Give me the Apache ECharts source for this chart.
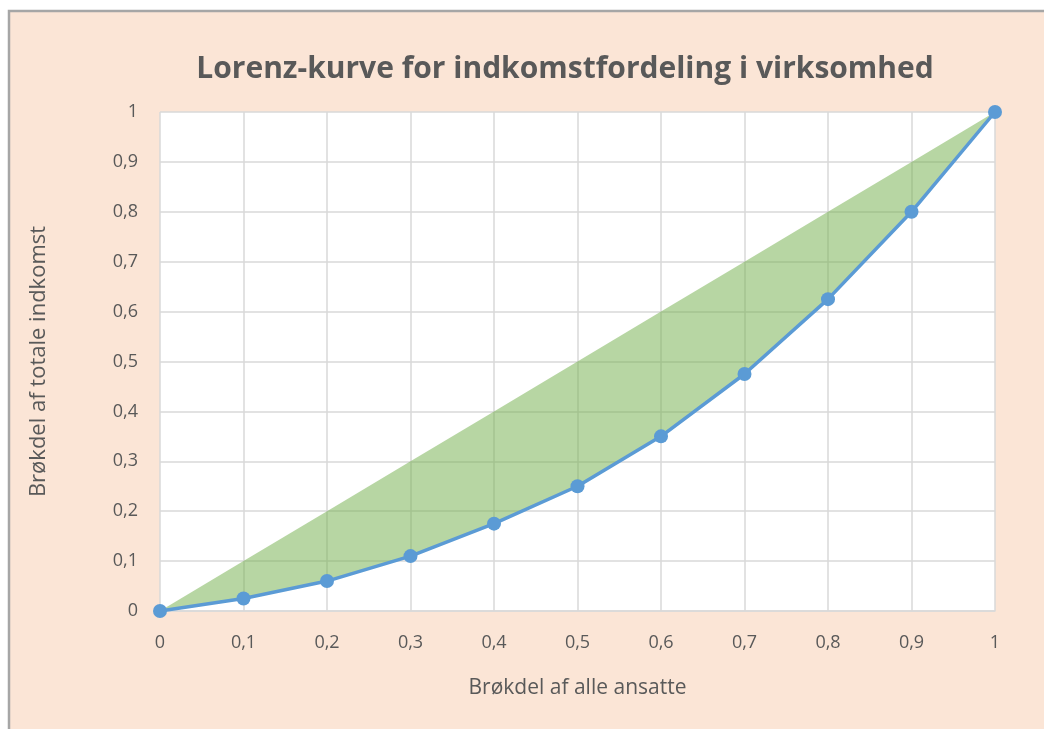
<!DOCTYPE html>
<html>
<head>
<meta charset="utf-8">
<script src="https://cdn.jsdelivr.net/npm/echarts@6/dist/echarts.min.js"></script>
<style>
  html, body { margin: 0; padding: 0; background: #fff; }
  #chart { width: 1044px; height: 729px; }
</style>
</head>
<body>
<div id="chart"></div>
<script>
    // andel af ansatte (x) og andel af indkomst (y)
    let ansatte = [0, 0.1, 0.2, 0.3, 0.4, 0.5, 0.6, 0.7, 0.8, 0.9, 1];
    let indkomst = [0, 0.025, 0.06, 0.11, 0.175, 0.25, 0.35, 0.475, 0.625, 0.8, 1];
    // lighedslinjen (perfekt fordeling)
    let lighed = [0, 0.1, 0.2, 0.3, 0.4, 0.5, 0.6, 0.7, 0.8, 0.9, 1];
    let tickLabels = ['0', '0,1', '0,2', '0,3', '0,4', '0,5', '0,6', '0,7', '0,8', '0,9', '1'];

    let chart = echarts.init(document.getElementById('chart'));
    let font = 'Open Sans';
    let tickFmt = v => tickLabels[Math.round(v * 10)];

    let option = {
        backgroundColor: '#fff',
        textStyle: { fontFamily: font },
        graphic: [{
            type: 'rect',
            z: -10,
            shape: { x: 9, y: 11, width: 1100, height: 800 },
            style: { fill: '#FBE5D6', stroke: '#A6A6A6', lineWidth: 2.5 }
        }],
        title: {
            text: 'Lorenz-kurve for indkomstfordeling i virksomhed',
            left: 560,
            top: 49,
            textAlign: 'center',
            textStyle: {
                color: '#595959',
                fontSize: 30,
                fontWeight: 'bold',
                fontFamily: font
            }
        },
        grid: {
            left: 160,
            right: 49,
            top: 112,
            bottom: 118,
            show: true,
            backgroundColor: '#fff',
            borderWidth: 0
        },
        xAxis: {
            type: 'value',
            min: 0,
            max: 1,
            interval: 0.1,
            name: 'Brøkdel af alle ansatte',
            nameLocation: 'middle',
            nameGap: 67,
            nameTextStyle: { color: '#595959', fontSize: 21 },
            axisLine: { show: true, lineStyle: { color: '#D9D9D9', width: 1.5 } },
            axisTick: { show: false },
            splitLine: { show: true, lineStyle: { color: '#D9D9D9', width: 1.5 } },
            axisLabel: { color: '#595959', fontSize: 18, margin: 23, formatter: tickFmt }
        },
        yAxis: {
            type: 'value',
            min: 0,
            max: 1,
            interval: 0.1,
            name: 'Brøkdel af totale indkomst',
            nameLocation: 'middle',
            nameGap: 110,
            nameTextStyle: { color: '#595959', fontSize: 22 },
            axisLine: { show: false },
            axisTick: { show: false },
            splitLine: { show: true, lineStyle: { color: '#D9D9D9', width: 1.5 } },
            axisLabel: { color: '#595959', fontSize: 18, margin: 22, formatter: tickFmt }
        },
        series: [{
            name: 'Lorenz',
            type: 'line',
            symbol: 'circle',
            symbolSize: 14,
            lineStyle: { color: '#5B9BD5', width: 3.5 },
            itemStyle: { color: '#5B9BD5' },
            data: ansatte.map((x, i) => [x, indkomst[i]])
        }, {
            // arealet mellem lighedslinjen og Lorenz-kurven
            name: 'Gini-areal',
            type: 'custom',
            silent: true,
            z: 3,
            data: [[0, 0]],
            renderItem: function (params, api) {
                let pts = [];
                ansatte.forEach((x, i) => pts.push(api.coord([x, lighed[i]])));
                for (let i = ansatte.length - 1; i >= 0; i--) {
                    pts.push(api.coord([ansatte[i], indkomst[i]]));
                }
                return {
                    type: 'polygon',
                    shape: { points: pts },
                    style: { fill: 'rgba(112,173,71,0.5)' }
                };
            }
        }]
    };

    chart.setOption(option);
</script>
</body>
</html>
